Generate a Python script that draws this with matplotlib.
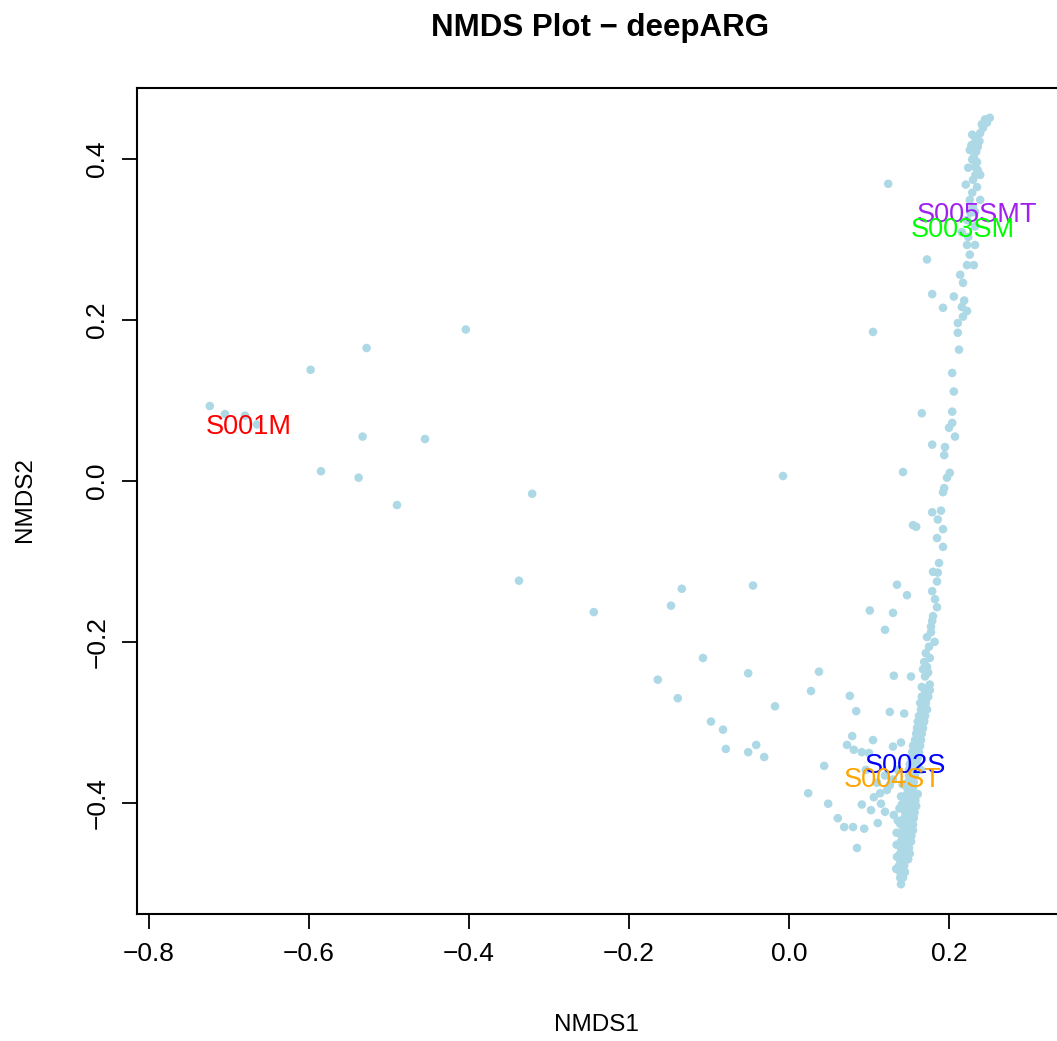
import numpy as np
import matplotlib
matplotlib.use("Agg")
import matplotlib.pyplot as plt

plt.rcParams['font.family'] = ['Liberation Sans', 'DejaVu Sans']

# NMDS-Koordinaten (geschaetzt aus der Abbildung)
pts_left = [
    (-0.724, 0.093), (-0.705, 0.083), (-0.680, 0.081), (-0.665, 0.070),
    (-0.598, 0.138), (-0.528, 0.165), (-0.404, 0.188), (-0.533, 0.055),
    (-0.455, 0.052), (-0.585, 0.012), (-0.538, 0.004), (-0.490, -0.030),
    (-0.321, -0.016), (-0.0075, 0.006),
]

pts_mid = [
    (-0.3375, -0.124), (-0.244, -0.163), (-0.134, -0.134), (-0.1475, -0.155),
    (-0.045, -0.130), (-0.1075, -0.220), (-0.164, -0.247), (-0.139, -0.270),
    (-0.051, -0.239), (0.0275, -0.261), (-0.0175, -0.280), (-0.0975, -0.299),
    (-0.0825, -0.309), (-0.079, -0.333), (-0.051, -0.337), (-0.041, -0.328),
    (-0.031, -0.343), (0.024, -0.388), (0.0375, -0.237),
]

pts_low_cluster = [
    (0.076, -0.267), (0.084, -0.286), (0.131, -0.242), (0.1525, -0.243),
    (0.126, -0.287), (0.144, -0.289), (0.079, -0.317), (0.105, -0.322),
    (0.0725, -0.328), (0.081, -0.334), (0.091, -0.337), (0.100, -0.338),
    (0.140, -0.325), (0.130, -0.330), (0.044, -0.354), (0.096, -0.359),
    (0.049, -0.401), (0.091, -0.402), (0.1025, -0.409), (0.115, -0.401),
    (0.106, -0.393), (0.120, -0.411), (0.131, -0.415), (0.061, -0.419),
    (0.069, -0.430), (0.080, -0.430), (0.094, -0.432), (0.111, -0.425),
    (0.139, -0.426), (0.085, -0.456), (0.141, -0.402),
    (0.1225, -0.384), (0.114, -0.388), (0.130, -0.371), (0.120, -0.366),
    (0.136, -0.359), (0.126, -0.378), (0.110, -0.375),
]

pts_band_top = [
    (0.251, 0.451), (0.2475, 0.445), (0.2425, 0.4385), (0.239, 0.432),
    (0.235, 0.427), (0.2325, 0.421), (0.236, 0.415), (0.234, 0.409),
    (0.231, 0.402), (0.235, 0.396), (0.2325, 0.390), (0.224, 0.389),
    (0.236, 0.386), (0.230, 0.374), (0.235, 0.365), (0.229, 0.358),
    (0.239, 0.349), (0.226, 0.349), (0.230, 0.340), (0.2225, 0.324),
    (0.2325, 0.316), (0.224, 0.303), (0.2225, 0.293), (0.2325, 0.293),
    (0.2225, 0.268), (0.231, 0.268), (0.214, 0.256), (0.2175, 0.246),
    (0.206, 0.229), (0.179, 0.232), (0.1925, 0.215), (0.216, 0.216),
    (0.2225, 0.211), (0.2175, 0.204), (0.211, 0.196), (0.211, 0.184),
    (0.2125, 0.163), (0.204, 0.134), (0.206, 0.111),
    (0.124, 0.369), (0.1725, 0.275), (0.105, 0.185),
    (0.245, 0.449), (0.241, 0.443), (0.229, 0.430), (0.226, 0.411),
    (0.229, 0.399), (0.239, 0.380), (0.221, 0.368), (0.2325, 0.334),
    (0.216, 0.309), (0.226, 0.281), (0.238, 0.422), (0.228, 0.417),
    (0.233, 0.380), (0.227, 0.333), (0.219, 0.224),
]

pts_band_mid = [
    (0.166, 0.084), (0.204, 0.086), (0.204, 0.072), (0.200, 0.066),
    (0.2075, 0.055), (0.179, 0.045), (0.195, 0.042), (0.194, 0.032),
    (0.1425, 0.011), (0.201, 0.010), (0.1975, 0.004), (0.194, -0.009),
    (0.1925, -0.014), (0.179, -0.039), (0.190, -0.037), (0.186, -0.048),
    (0.155, -0.055), (0.159, -0.057), (0.1925, -0.060), (0.185, -0.071),
    (0.1925, -0.082), (0.1875, -0.102), (0.180, -0.113), (0.186, -0.114),
    (0.185, -0.125), (0.135, -0.129), (0.1475, -0.142), (0.179, -0.137),
    (0.1825, -0.147), (0.185, -0.157), (0.101, -0.161), (0.130, -0.164),
    (0.120, -0.185), (0.179, -0.174), (0.1775, -0.181), (0.1775, -0.188),
    (0.1725, -0.194), (0.175, -0.206), (0.171, -0.214), (0.176, -0.220),
    (0.169, -0.225), (0.1725, -0.231), (0.1675, -0.234), (0.170, -0.243),
    (0.176, -0.253), (0.166, -0.256), (0.1725, -0.262), (0.182, -0.200),
    (0.180, -0.168), (0.174, -0.238),
]

pts_band_low = [
    (0.170, -0.260), (0.176, -0.260), (0.166, -0.268), (0.174, -0.268),
    (0.164, -0.276), (0.171, -0.276), (0.165, -0.284), (0.1725, -0.284),
    (0.1625, -0.292), (0.170, -0.292), (0.161, -0.299), (0.169, -0.299),
    (0.160, -0.307), (0.1675, -0.307), (0.159, -0.314), (0.166, -0.314),
    (0.1575, -0.322), (0.165, -0.322), (0.155, -0.329), (0.164, -0.329),
    (0.154, -0.337), (0.1625, -0.337), (0.1525, -0.344), (0.161, -0.344),
    (0.151, -0.352), (0.160, -0.352), (0.150, -0.359), (0.159, -0.359),
    (0.165, -0.359), (0.150, -0.366), (0.1575, -0.366), (0.149, -0.374),
    (0.156, -0.374), (0.1475, -0.381), (0.155, -0.381), (0.1475, -0.389),
    (0.155, -0.389), (0.161, -0.389), (0.146, -0.396), (0.154, -0.396),
    (0.145, -0.404), (0.1525, -0.404), (0.159, -0.404), (0.145, -0.411),
    (0.151, -0.411), (0.144, -0.419), (0.151, -0.419), (0.156, -0.419),
    (0.1425, -0.426), (0.150, -0.426), (0.1425, -0.434), (0.149, -0.434),
    (0.155, -0.434), (0.141, -0.441), (0.1475, -0.441), (0.140, -0.448),
    (0.1475, -0.448), (0.1525, -0.448), (0.140, -0.456), (0.146, -0.456),
    (0.139, -0.463), (0.145, -0.463), (0.151, -0.463), (0.139, -0.471),
    (0.145, -0.471), (0.1375, -0.478), (0.144, -0.478), (0.139, -0.486),
    (0.145, -0.486), (0.139, -0.493), (0.1425, -0.493), (0.140, -0.501),
    (0.1345, -0.452), (0.1345, -0.437), (0.136, -0.422), (0.138, -0.407),
    (0.140, -0.392), (0.142, -0.377), (0.158, -0.397), (0.157, -0.412),
    (0.155, -0.427), (0.153, -0.441), (0.150, -0.456), (0.149, -0.470),
    (0.135, -0.467), (0.134, -0.482), (0.172, -0.270), (0.168, -0.288),
    (0.166, -0.303), (0.163, -0.318), (0.161, -0.333), (0.157, -0.348),
]

# Beschriftungen der Proben
sample_names = ["S001M", "S005SMT", "S003SM", "S002S", "S004ST"]
sample_x = [-0.675, 0.235, 0.2175, 0.146, 0.130]
sample_y = [0.067, 0.330, 0.312, -0.354, -0.371]
sample_colors = ["#FF0000", "#A020F0", "#00FF00", "#0000FF", "#FFA500"]

all_pts = np.array(pts_left + pts_mid + pts_low_cluster + pts_band_top
                   + pts_band_mid + pts_band_low)

fig = plt.figure(figsize=(10.57, 10.41), dpi=100)
ax = fig.add_axes([137 / 1057, 127 / 1041, 926 / 1057, 826 / 1041])

ax.scatter(all_pts[:, 0], all_pts[:, 1], s=38, color="#ADD8E6",
           edgecolors="none", zorder=2)

for name, x, y, c in zip(sample_names, sample_x, sample_y, sample_colors):
    ax.text(x, y, name, color=c, fontsize=19.5, ha="center", va="center", zorder=3)

ax.set_xlim(-0.815, 0.3425)
ax.set_ylim(-0.538, 0.488)
ax.set_xticks([-0.8, -0.6, -0.4, -0.2, 0.0, 0.2])
ax.set_yticks([-0.4, -0.2, 0.0, 0.2, 0.4])
ax.set_xticklabels(["−0.8", "−0.6", "−0.4", "−0.2", "0.0", "0.2"])
ax.set_yticklabels(["−0.4", "−0.2", "0.0", "0.2", "0.4"], rotation=90, va="center")
ax.tick_params(direction="out", length=11, width=1.3, labelsize=19, pad=9)
for sp in ax.spines.values():
    sp.set_linewidth(1.5)

fig.text(600 / 1057, 1 - 28 / 1041, "NMDS Plot − deepARG", ha="center",
         va="center", fontsize=22.5, fontweight="bold")
fig.text(596 / 1057, 1 - 1025 / 1041, "NMDS1", ha="center", va="center", fontsize=17.5)
fig.text(25 / 1057, 1 - 500 / 1041, "NMDS2", ha="center", va="center",
         fontsize=17.5, rotation=90)

fig.savefig("out.png", dpi=100)
